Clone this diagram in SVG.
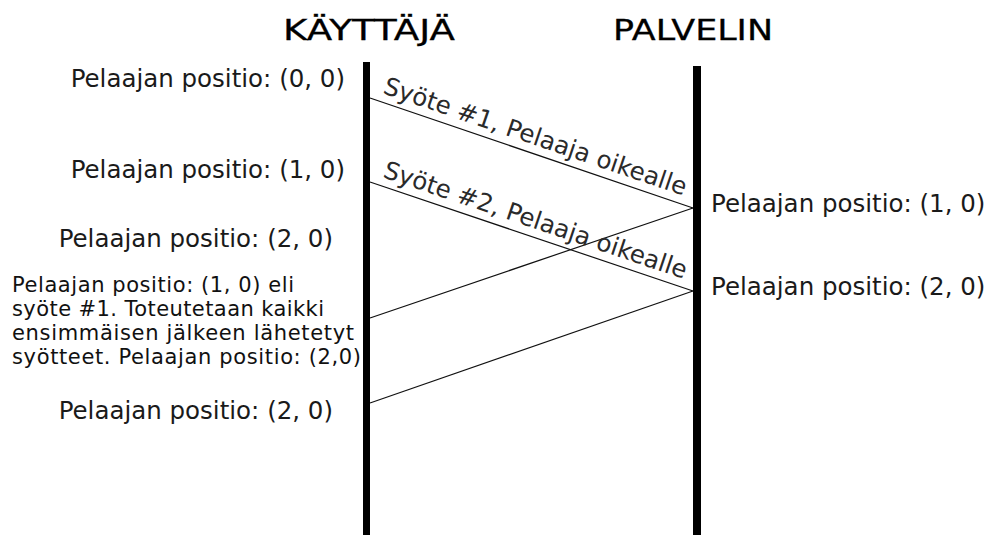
<svg xmlns="http://www.w3.org/2000/svg" width="992" height="535" viewBox="0 0 992 535">
  <style>
    text { font-family: "DejaVu Sans", "Noto Sans", sans-serif; fill: #111; }
    .title { font-size: 28px; fill: #000; stroke: #000; stroke-width: 0.3; }
    .pos { font-size: 24.5px; fill: #1a1a1a; }
    .note { font-size: 21px; }
    .msg { font-size: 24.5px; fill: #2a2a2a; }
    .bar { fill: #000; }
    .conn line { stroke: #111; stroke-width: 1.2; fill: none; }
  </style>
  <rect width="992" height="535" fill="#fff"/>

  <!-- client lifeline -->
  <g id="client">
    <text class="title" x="283" y="40" textLength="172" lengthAdjust="spacingAndGlyphs">KÄYTTÄJÄ</text>
    <rect class="bar" x="363" y="62" width="7" height="473"/>
    <text class="pos" x="345" y="87" text-anchor="end">Pelaajan positio: (0, 0)</text>
    <text class="pos" x="345" y="178" text-anchor="end">Pelaajan positio: (1, 0)</text>
    <text class="pos" x="333" y="247" text-anchor="end">Pelaajan positio: (2, 0)</text>
    <text class="note" x="12" y="292" textLength="282">Pelaajan positio: (1, 0) eli</text>
    <text class="note" x="12" y="316" textLength="312">syöte #1. Toteutetaan kaikki</text>
    <text class="note" x="12" y="340" textLength="342">ensimmäisen jälkeen lähetetyt</text>
    <text class="note" x="12" y="364" textLength="349">syötteet. Pelaajan positio: (2,0)</text>
    <text class="pos" x="333" y="419" text-anchor="end">Pelaajan positio: (2, 0)</text>
  </g>

  <!-- server lifeline -->
  <g id="server">
    <text class="title" x="613" y="40" textLength="160" lengthAdjust="spacingAndGlyphs">PALVELIN</text>
    <rect class="bar" x="693" y="66" width="8" height="469"/>
    <text class="pos" x="711" y="212">Pelaajan positio: (1, 0)</text>
    <text class="pos" x="711" y="295">Pelaajan positio: (2, 0)</text>
  </g>

  <!-- messages -->
  <g id="connectors" class="conn">
    <line x1="370" y1="98" x2="693" y2="208"/>
    <line x1="370" y1="182" x2="693" y2="291"/>
    <line x1="693" y1="208" x2="370" y2="318"/>
    <line x1="693" y1="291" x2="370" y2="403"/>
    <text class="msg" transform="translate(382 93) rotate(18.8)">Syöte #1, Pelaaja oikealle</text>
    <text class="msg" transform="translate(382 177) rotate(18.65)">Syöte #2, Pelaaja oikealle</text>
  </g>
</svg>
